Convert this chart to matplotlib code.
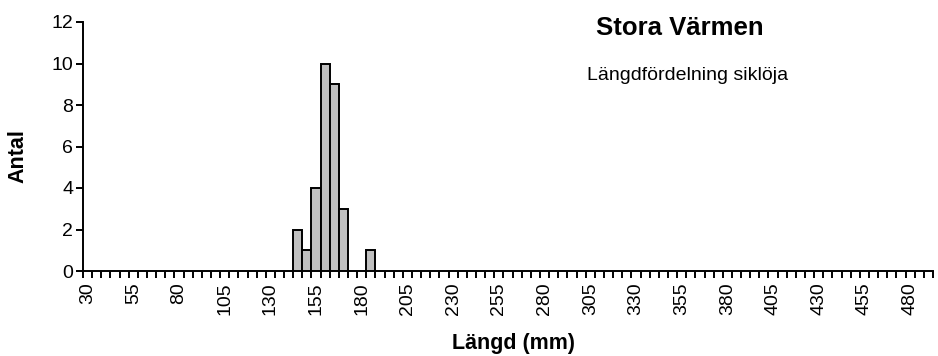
import matplotlib.pyplot as plt
import numpy as np

plt.rcParams['font.family'] = ['Liberation Sans', 'DejaVu Sans']

# Längdklasser (mm) och antal fångade siklöjor per klass
klass_start = 30
klass_slut = 490
klass_steg = 5
langd = [145, 150, 155, 160, 165, 170, 185]
antal = [2, 1, 4, 10, 9, 3, 1]

titel = 'Stora Värmen'
undertitel = 'Längdfördelning siklöja'

klasser = np.arange(klass_start, klass_slut + 1, klass_steg)

W, H = 938, 356
fig = plt.figure(figsize=(W / 100, H / 100), dpi=100)
ax = fig.add_axes([83 / W, 1 - 271 / H, (933 - 83) / W, (271 - 22) / H])

ax.bar(langd, antal, width=klass_steg, color='#c0c0c0', edgecolor='black', linewidth=1.4, zorder=3)

ax.set_xlim(klasser[0] - klass_steg / 2, klasser[-1] + klass_steg / 2)
ax.set_ylim(0, 12)
ax.set_yticks(range(0, 13, 2))

# Etiketter var femte klass, streck mellan varje klass
etiketter = klasser[::5]
ax.set_xticks(etiketter)
ax.set_xticklabels([str(v) for v in etiketter], rotation=90)
ax.set_xticks(np.append(klasser - klass_steg / 2, klasser[-1] + klass_steg / 2), minor=True)
ax.tick_params(axis='x', which='major', length=0, pad=8, labelsize=14)
ax.tick_params(axis='x', which='minor', length=5, width=1.4, direction='out')
ax.tick_params(axis='y', length=5, width=1.4, direction='out', labelsize=14, pad=2)

for side in ['top', 'right']:
    ax.spines[side].set_visible(False)
for side in ['left', 'bottom']:
    ax.spines[side].set_linewidth(1.4)

fig.text(513 / W, 1 - 343 / H, 'Längd (mm)', fontsize=15.5, fontweight='bold', ha='center', va='center')
fig.text(18 / W, 1 - 156 / H, 'Antal', fontsize=15.5, fontweight='bold', rotation=90, ha='center', va='center')

fig.text(680 / W, 1 - 28 / H, titel, fontsize=18.5, fontweight='bold', ha='center', va='center')
fig.text(688 / W, 1 - 75 / H, undertitel, fontsize=14, ha='center', va='center')

fig.savefig('out.png', dpi=100)
